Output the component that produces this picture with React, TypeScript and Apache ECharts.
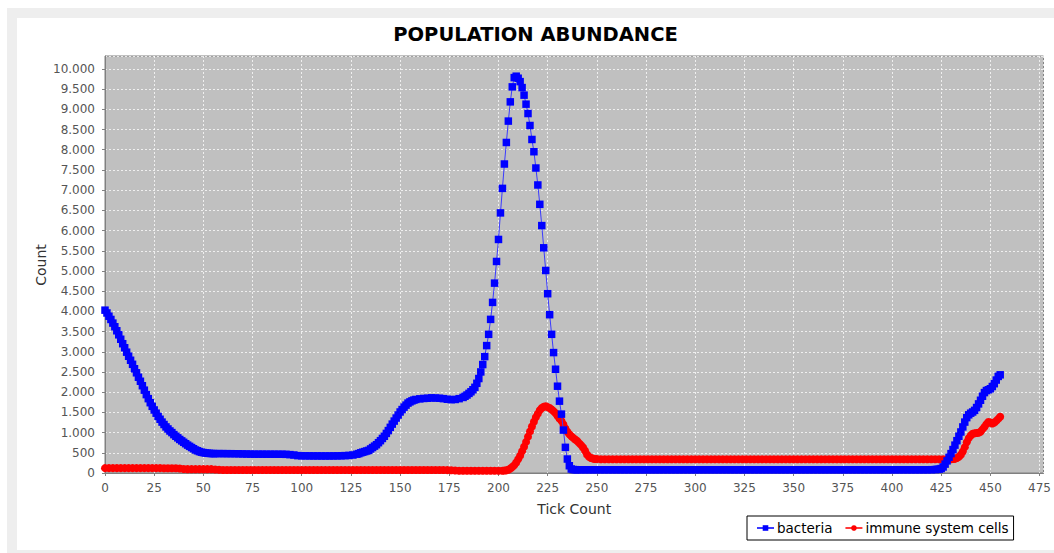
import React, { useEffect, useRef } from "react";
import * as echarts from "echarts";

// [tick, count] pairs
const bacteriaDecline: [number, number][] = [
  [0, 4030], [1, 3960], [2, 3880], [3, 3800], [4, 3710], [5, 3620], [6, 3520], [7, 3420],
  [8, 3310], [9, 3200], [10, 3100], [11, 2990], [12, 2890], [13, 2790], [14, 2690], [15, 2580],
  [16, 2480], [17, 2370], [18, 2270], [19, 2160], [20, 2050], [21, 1940], [22, 1840], [23, 1740],
  [24, 1650], [25, 1560], [26, 1480], [27, 1400], [28, 1330], [29, 1260], [30, 1200], [31, 1140],
  [32, 1090], [33, 1040], [34, 1000], [35, 950], [36, 910], [37, 870], [38, 830], [39, 795],
  [40, 760], [41, 725], [42, 690], [43, 660], [44, 630], [45, 600], [46, 570], [47, 550],
  [48, 530], [49, 515], [50, 505], [51, 495], [52, 490], [53, 485], [54, 482], [55, 480],
  [56, 480],
];

const bacteriaLow: [number, number][] = [
  [58, 480], [60, 480], [62, 478], [64, 478], [66, 477], [68, 475], [70, 472], [72, 470],
  [74, 468], [76, 466], [78, 466], [80, 466], [82, 465], [84, 465], [86, 465], [88, 464],
  [90, 464], [92, 462], [94, 455], [96, 445], [98, 430], [100, 426], [102, 425], [104, 424],
  [106, 423], [108, 423], [110, 422], [112, 422], [114, 422], [116, 423], [118, 424], [120, 426],
  [122, 430], [124, 435], [126, 445], [128, 465], [129, 480],
];

const bacteriaRise: [number, number][] = [
  [130, 500], [131, 515], [132, 530], [133, 545], [134, 560], [135, 595], [136, 630], [137, 665],
  [138, 700], [139, 750], [140, 800], [141, 855], [142, 910], [143, 980], [144, 1050], [145, 1130],
  [146, 1210], [147, 1285], [148, 1360], [149, 1435], [150, 1510], [151, 1570], [152, 1630],
  [153, 1680], [154, 1730], [155, 1760], [156, 1785], [157, 1805], [158, 1820], [160, 1835],
  [162, 1845], [164, 1850], [166, 1860], [168, 1855], [170, 1850], [172, 1840], [174, 1825],
  [176, 1815], [178, 1820], [180, 1840], [182, 1870], [183, 1900], [184, 1930], [185, 1970],
  [186, 2010], [187, 2060], [188, 2120],
];

const bacteriaPeak: [number, number][] = [
  [189, 2220], [190, 2338], [191, 2501], [192, 2684], [193, 2881], [194, 3153], [195, 3432],
  [196, 3802], [197, 4222], [198, 4699], [199, 5235], [200, 5780], [201, 6437], [202, 7044],
  [203, 7647], [204, 8180], [205, 8709], [206, 9185], [207, 9556], [208, 9785], [209, 9820],
  [210, 9770], [211, 9686], [212, 9538], [213, 9351], [214, 9128], [215, 8896], [216, 8600],
  [217, 8254], [218, 7951], [219, 7548], [220, 7128], [221, 6649], [222, 6123], [223, 5573],
  [224, 5012], [225, 4437], [226, 3918], [227, 3432], [228, 2980], [229, 2568], [230, 2148],
  [231, 1778], [232, 1457], [233, 1062], [234, 635], [235, 346], [236, 180], [237, 99],
];

const bacteriaFlat: [number, number][] = [
  [238, 85], [239, 82], [240, 80], [242, 80], [244, 80], [246, 80], [248, 80], [250, 80],
  [252, 80], [254, 80], [256, 80], [258, 80], [260, 80], [262, 80], [264, 80], [266, 80],
  [268, 80], [270, 80], [272, 80], [274, 80], [276, 80], [278, 80], [280, 80], [282, 80],
  [284, 80], [286, 80], [288, 80], [290, 80], [292, 80], [294, 80], [296, 80], [298, 80],
  [300, 80], [302, 80], [304, 80], [306, 80], [308, 80], [310, 80], [312, 80], [314, 80],
  [316, 80], [318, 80], [320, 80], [322, 80], [324, 80], [326, 80], [328, 80], [330, 80],
  [332, 80], [334, 80], [336, 80], [338, 80], [340, 80], [342, 80], [344, 80], [346, 80],
  [348, 80], [350, 80], [352, 80], [354, 80], [356, 80], [358, 80], [360, 80], [362, 80],
  [364, 80], [366, 80], [368, 80], [370, 80], [372, 80], [374, 80], [376, 80], [378, 80],
  [380, 80], [382, 80], [384, 80], [386, 80], [388, 80], [390, 80], [392, 80], [394, 80],
  [396, 80], [398, 80], [400, 80], [402, 80], [404, 80], [406, 80], [408, 80], [410, 80],
  [412, 80], [414, 80], [416, 80], [418, 80], [420, 82], [422, 85], [423, 90],
];

const bacteriaLate: [number, number][] = [
  [424, 95], [425, 110], [426, 150], [427, 220], [428, 300], [429, 390], [430, 480], [431, 580],
  [432, 690], [433, 800], [434, 910], [435, 1015], [436, 1140], [437, 1260], [438, 1370],
  [439, 1440], [440, 1480], [441, 1510], [442, 1550], [443, 1620], [444, 1710], [445, 1800],
  [446, 1900], [447, 1990], [448, 2040], [449, 2060], [450, 2085], [451, 2140], [452, 2210],
  [453, 2300], [454, 2390], [455, 2430],
];

const immuneEarly: [number, number][] = [
  [0, 120], [2, 120], [4, 120], [6, 120], [8, 120], [10, 120], [12, 120], [14, 120], [16, 120],
  [18, 120], [20, 120], [22, 120], [24, 120], [26, 120], [28, 120], [30, 118], [32, 118],
  [34, 118], [36, 116], [38, 110], [40, 100], [42, 95], [44, 95], [46, 95], [48, 95], [50, 95],
  [52, 95], [54, 95], [56, 88], [58, 80], [60, 75], [62, 75], [64, 75], [66, 75], [68, 75],
  [70, 75], [72, 75], [74, 75], [76, 75], [78, 75], [80, 75], [82, 75], [84, 75], [86, 75],
  [88, 75], [90, 75], [92, 75], [94, 75], [96, 75], [98, 75], [100, 75], [102, 75], [104, 75],
  [106, 75], [108, 75], [110, 75], [112, 75], [114, 75], [116, 75], [118, 75], [120, 75],
  [122, 75], [124, 75], [126, 75], [128, 75], [130, 75], [132, 75], [134, 75], [136, 75],
  [138, 75], [140, 75], [142, 75], [144, 75], [146, 75], [148, 75], [150, 75], [152, 75],
  [154, 75], [156, 75], [158, 75], [160, 75], [162, 75], [164, 75], [166, 75], [168, 75],
  [170, 75], [172, 75], [174, 72], [176, 68], [178, 62], [180, 55], [182, 55], [184, 55],
  [186, 55], [188, 55], [190, 55], [192, 55], [194, 55], [196, 55], [198, 55], [200, 55],
  [202, 55], [203, 60], [204, 65],
];

const immuneBump: [number, number][] = [
  [205, 80], [206, 110], [207, 150], [208, 190], [209, 260], [210, 340], [211, 430], [212, 540],
  [213, 650], [214, 770], [215, 900], [216, 1030], [217, 1150], [218, 1270], [219, 1380],
  [220, 1470], [221, 1555], [222, 1610], [223, 1640], [224, 1650], [225, 1630], [226, 1610],
  [227, 1570], [228, 1530], [229, 1480], [230, 1410], [231, 1350], [232, 1290], [233, 1200],
  [234, 1100], [235, 1020], [236, 960], [237, 910], [238, 870], [239, 830], [240, 790],
  [241, 740], [242, 690], [243, 630], [244, 550], [245, 460], [246, 400], [247, 370],
  [248, 355], [249, 348], [250, 345],
];

const immuneFlat: [number, number][] = [
  [252, 342], [254, 342], [256, 342], [258, 342], [260, 342], [262, 342], [264, 342], [266, 342],
  [268, 342], [270, 342], [272, 342], [274, 342], [276, 342], [278, 342], [280, 342], [282, 342],
  [284, 342], [286, 342], [288, 342], [290, 342], [292, 342], [294, 342], [296, 342], [298, 342],
  [300, 342], [302, 342], [304, 342], [306, 342], [308, 342], [310, 342], [312, 342], [314, 342],
  [316, 342], [318, 342], [320, 342], [322, 342], [324, 342], [326, 342], [328, 342], [330, 342],
  [332, 342], [334, 342], [336, 342], [338, 342], [340, 342], [342, 342], [344, 342], [346, 342],
  [348, 342], [350, 342], [352, 342], [354, 342], [356, 342], [358, 342], [360, 342], [362, 342],
  [364, 342], [366, 342], [368, 342], [370, 342], [372, 342], [374, 342], [376, 342], [378, 342],
  [380, 342], [382, 342], [384, 342], [386, 342], [388, 342], [390, 342], [392, 342], [394, 342],
  [396, 342], [398, 342], [400, 342], [402, 342], [404, 342], [406, 342], [408, 342], [410, 342],
  [412, 342], [414, 342], [416, 342], [418, 342], [420, 342], [422, 342], [424, 342], [426, 342],
  [428, 342], [430, 342],
];

const immuneLate: [number, number][] = [
  [431, 345], [432, 350], [433, 370], [434, 400], [435, 450], [436, 530], [437, 640], [438, 760],
  [439, 860], [440, 930], [441, 970], [442, 985], [443, 990], [444, 995], [445, 1020],
  [446, 1080], [447, 1140], [448, 1210], [449, 1260], [450, 1250], [451, 1225], [452, 1250],
  [453, 1290], [454, 1340], [455, 1390],
];

const seriesNames = ["bacteria", "immune system cells"];
const chartTitle = "POPULATION ABUNDANCE";
const xTitle = "Tick Count";
const yTitle = "Count";

const FONT = "DejaVu Sans";

function fmt(v: number): string {
  return String(Math.round(v)).replace(/\B(?=(\d{3})+(?!\d))/g, ".");
}

export default function App() {
  const ref = useRef<HTMLDivElement>(null);

  useEffect(() => {
    if (!ref.current) return;
    const chart = echarts.init(ref.current, undefined, { renderer: "svg" });
    const bacteria = [
      ...bacteriaDecline, ...bacteriaLow, ...bacteriaRise, ...bacteriaPeak, ...bacteriaFlat, ...bacteriaLate,
    ];
    const immune = [...immuneEarly, ...immuneBump, ...immuneFlat, ...immuneLate];

    chart.setOption({
      animation: false,
      backgroundColor: "#ffffff",
      textStyle: { fontFamily: FONT },
      title: {
        text: chartTitle,
        left: "center",
        top: 1,
        textStyle: { fontFamily: FONT, fontSize: 19.5, fontWeight: "bold", color: "#000000" },
      },
      graphic: [
        {
          type: "text",
          x: 24,
          y: 247,
          rotation: Math.PI / 2,
          style: {
            text: yTitle,
            fontFamily: FONT,
            fontSize: 14,
            fill: "#333333",
            align: "center",
            verticalAlign: "middle",
          },
        },
      ],
      grid: {
        left: 88,
        top: 38,
        width: 939,
        height: 417,
        show: true,
        backgroundColor: "#c0c0c0",
        borderColor: "#808080",
        borderWidth: 1,
      },
      legend: {
        data: seriesNames,
        left: 730,
        top: 498,
        orient: "horizontal",
        selectedMode: false,
        itemWidth: 17,
        itemHeight: 7,
        itemGap: 12,
        padding: [5, 5, 5, 9],
        borderColor: "#000000",
        borderWidth: 1,
        textStyle: { fontFamily: FONT, fontSize: 13.5, color: "#000000", padding: [0, 0, 0, -2] },
      },
      xAxis: {
        type: "value",
        min: 0,
        max: 477,
        interval: 25,
        offset: 3,
        name: xTitle,
        nameLocation: "middle",
        nameGap: 26,
        nameTextStyle: { fontFamily: FONT, fontSize: 14, color: "#333333" },
        axisLine: { show: true, lineStyle: { color: "#808080" } },
        axisTick: { show: true, length: 3, lineStyle: { color: "#808080" } },
        axisLabel: {
          fontFamily: FONT,
          fontSize: 12,
          color: "#555555",
          margin: 6,
          showMaxLabel: false,
          formatter: (v: number) => (v > 475 ? "" : fmt(v)),
        },
        splitLine: { show: true, lineStyle: { color: "#ffffff", type: [2, 2], width: 1, opacity: 0.75 } },
      },
      yAxis: {
        type: "value",
        min: 0,
        max: 10320,
        interval: 500,
        offset: 3,
        axisLine: { show: true, lineStyle: { color: "#808080" } },
        axisTick: { show: true, length: 3, lineStyle: { color: "#808080" } },
        axisLabel: {
          fontFamily: FONT,
          fontSize: 12,
          color: "#555555",
          margin: 7,
          showMaxLabel: false,
          formatter: (v: number) => (v > 10000 ? "" : fmt(v)),
        },
        splitLine: { show: true, lineStyle: { color: "#ffffff", type: [2, 2], width: 1, opacity: 0.75 } },
      },
      series: [
        {
          name: seriesNames[0],
          type: "line",
          data: bacteria,
          z: 3,
          symbol: "rect",
          symbolSize: 7.5,
          showAllSymbol: true,
          itemStyle: { color: "#0000ff" },
          lineStyle: { color: "#3a3aff", width: 1 },
        },
        {
          name: seriesNames[1],
          type: "line",
          data: immune,
          z: 2,
          symbol: "circle",
          symbolSize: 8,
          showAllSymbol: true,
          itemStyle: { color: "#ff0000" },
          lineStyle: { color: "#ff3a3a", width: 1 },
        },
      ],
    });
    return () => chart.dispose();
  }, []);

  return (
    <div
      style={{
        position: "fixed",
        left: 7,
        top: 8,
        right: 0,
        bottom: 0,
        background: "#eeeeee",
        overflow: "hidden",
      }}
    >
      <div
        ref={ref}
        style={{ position: "absolute", left: 10, top: 10, width: 1037, height: 532 }}
      />
    </div>
  );
}
